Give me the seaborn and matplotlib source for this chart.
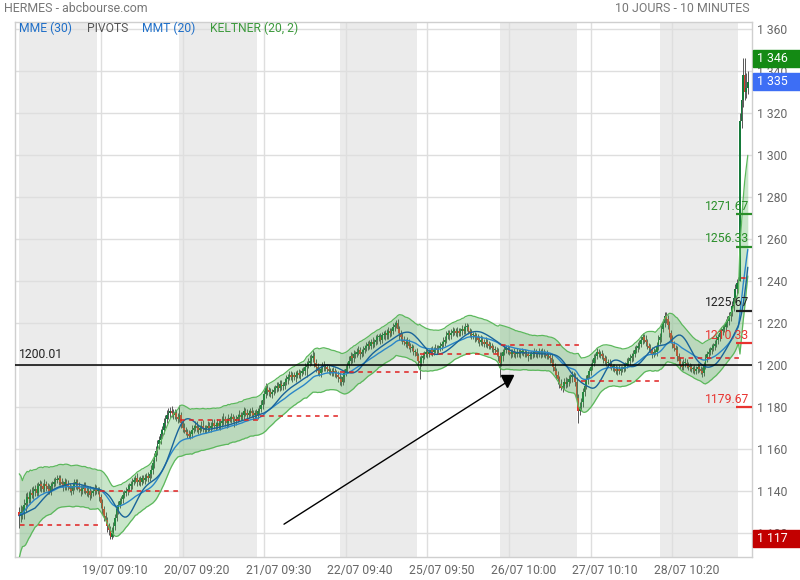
"""HERMES intraday chart (10 days, 10-minute candles) with MME/MMT, Keltner band and pivots."""
import numpy as np
import pandas as pd
import matplotlib
matplotlib.use("Agg")
import matplotlib.pyplot as plt
import matplotlib.transforms as mtransforms
from matplotlib.patches import Rectangle
import seaborn as sns

sns.set_theme(style="white")
plt.rcParams["font.family"] = ["Roboto", "DejaVu Sans"]

# ---- data --------------------------------------------------------------
days = ["18/07", "19/07", "20/07", "21/07", "22/07", "25/07", "26/07", "27/07", "28/07", "29/07"]
tick_labels = ["19/07 09:10", "20/07 09:20", "21/07 09:30", "22/07 09:40",
               "25/07 09:50", "26/07 10:00", "27/07 10:10", "28/07 10:20"]

first_open = 1130

c_1807 = [1128, 1130, 1129, 1133, 1134, 1137, 1136, 1139, 1138, 1140,
          1141, 1139, 1142, 1143, 1142, 1141, 1143, 1142, 1141, 1140,
          1142, 1143, 1144, 1145, 1145, 1146, 1144, 1143, 1142, 1144,
          1143, 1142, 1141, 1140, 1142, 1143, 1144, 1142, 1141, 1140,
          1141, 1142, 1140, 1139, 1140, 1138, 1139, 1140, 1141, 1140,
          1140]
c_1907 = [1137, 1134, 1131, 1128, 1126, 1123, 1121, 1118, 1120, 1123,
          1127, 1131, 1133, 1135, 1136, 1138, 1139, 1140, 1141, 1142,
          1143, 1144, 1145, 1146, 1144, 1145, 1144, 1146, 1145, 1146,
          1147, 1146, 1148, 1150, 1153, 1156, 1159, 1162, 1164, 1167,
          1169, 1172, 1174, 1176, 1177, 1178, 1177, 1176, 1177, 1175,
          1174]
c_2007 = [1176, 1172, 1170, 1169, 1168, 1167, 1166, 1167, 1169, 1170,
          1171, 1170, 1169, 1170, 1171, 1170, 1169, 1170, 1171, 1170,
          1171, 1172, 1171, 1171, 1172, 1171, 1172, 1173, 1174, 1173,
          1172, 1174, 1174, 1175, 1174, 1173, 1174, 1175, 1176, 1175,
          1176, 1178, 1177, 1176, 1177, 1178, 1177, 1176, 1177, 1176,
          1178]
c_2107 = [1179, 1181, 1183, 1186, 1189, 1188, 1187, 1186, 1187, 1188,
          1189, 1190, 1189, 1191, 1190, 1190, 1192, 1193, 1194, 1195,
          1194, 1195, 1194, 1195, 1196, 1195, 1196, 1197, 1197, 1199,
          1200, 1201, 1202, 1203, 1204, 1201, 1199, 1197, 1196, 1198,
          1200, 1199, 1199, 1198, 1197, 1197, 1196, 1197, 1196, 1195,
          1194]
c_2207 = [1193, 1192, 1194, 1196, 1198, 1200, 1202, 1204, 1203, 1205,
          1205, 1206, 1207, 1205, 1206, 1207, 1208, 1209, 1210, 1209,
          1211, 1210, 1211, 1212, 1213, 1213, 1212, 1214, 1214, 1215,
          1214, 1216, 1215, 1216, 1218, 1219, 1220, 1217, 1215, 1213,
          1212, 1211, 1210, 1211, 1209, 1208, 1208, 1206, 1206, 1204,
          1202]
c_2507 = [1201, 1203, 1204, 1205, 1206, 1205, 1206, 1207, 1206, 1207,
          1208, 1207, 1208, 1209, 1210, 1211, 1212, 1214, 1215, 1214,
          1215, 1216, 1216, 1215, 1216, 1215, 1216, 1217, 1216, 1218,
          1218, 1216, 1215, 1214, 1214, 1213, 1213, 1212, 1211, 1212,
          1211, 1210, 1211, 1210, 1209, 1209, 1208, 1207, 1207, 1206,
          1204]
c_2607 = [1201, 1204, 1206, 1207, 1208, 1207, 1206, 1205, 1206, 1205,
          1205, 1206, 1205, 1206, 1206, 1206, 1205, 1205, 1204, 1204,
          1205, 1205, 1206, 1205, 1205, 1206, 1205, 1206, 1205, 1205,
          1204, 1204, 1203, 1201, 1199, 1197, 1195, 1193, 1191, 1189,
          1190, 1192, 1191, 1192, 1193, 1194, 1195, 1194, 1192, 1184,
          1178]
c_2707 = [1180, 1182, 1187, 1190, 1193, 1195, 1197, 1199, 1201, 1203,
          1204, 1206, 1205, 1205, 1204, 1203, 1202, 1201, 1201, 1200,
          1199, 1199, 1198, 1197, 1198, 1197, 1198, 1198, 1199, 1200,
          1201, 1202, 1203, 1204, 1205, 1207, 1208, 1209, 1210, 1212,
          1213, 1212, 1211, 1209, 1208, 1207, 1205, 1206, 1206, 1209,
          1212]
c_2807 = [1213, 1217, 1220, 1223, 1222, 1219, 1215, 1212, 1210, 1208,
          1207, 1204, 1202, 1200, 1199, 1201, 1201, 1200, 1199, 1199,
          1198, 1198, 1197, 1198, 1199, 1198, 1197, 1196, 1200, 1203,
          1205, 1206, 1207, 1208, 1209, 1210, 1212, 1213, 1215, 1216,
          1217, 1218, 1220, 1221, 1223, 1225, 1228, 1232, 1236, 1239,
          1240]
c_2907 = [1316, 1326, 1338, 1330, 1332, 1335]

# wick lengths above / below each candle body
up_1807 = [2, 3, 2.5, 3, 5, 2.5, 3, 2, 2.5, 2, 1.5, 2.5, 2, 2, 1.5, 1.5, 2.5, 1.5, 1.5, 2,
           2, 1.5, 2, 1.5, 2.5, 1.5, 1.5, 2, 1.5, 2, 1.5, 2, 1.5, 1.5, 2, 2.5, 1.5, 1.5, 2, 1.5,
           1.5, 2, 2, 1.5, 1.5, 2, 1.5, 1.5, 2, 1.5, 1.5]
dn_1807 = [6, 3, 2.5, 2.5, 3, 2.5, 2, 2.5, 1.5, 2, 2.5, 1.5, 1.5, 2, 2.5, 1.5, 1.5, 2, 2.5, 1.5,
           2, 1.5, 1.5, 2, 1.5, 2.5, 1.5, 1.5, 2, 1.5, 2.5, 1.5, 1.5, 2, 1.5, 1.5, 2, 1.5, 1.5, 2.5,
           1.5, 2, 1.5, 1.5, 2, 2.5, 1.5, 1.5, 2, 1.5, 1.5]
up_1907 = [1.5, 1.5, 2, 1.5, 2, 1.5, 1.5, 2, 2.5, 2, 2, 1.5, 2, 1.5, 1.5, 2, 1.5, 1.5, 2, 1.5,
           1.5, 2, 1.5, 1.5, 2.5, 1.5, 2, 1.5, 1.5, 2, 1.5, 2, 1.5, 2, 2, 2, 2.5, 2, 2, 2.5,
           2, 2.5, 2, 2.5, 2.5, 2, 2.5, 2, 2, 1.5, 2]
dn_1907 = [2, 2.5, 2, 2.5, 2, 2.5, 2, 1, 1, 2, 2, 1.5, 2, 1.5, 1.5, 2, 1.5, 1.5, 2, 1.5,
           1.5, 2, 1.5, 1.5, 2, 1.5, 2, 1.5, 1.5, 2, 1.5, 2, 1.5, 2, 2, 2, 2, 2, 2, 2,
           2, 2, 2, 2, 2, 2.5, 2, 2, 2, 2, 2]
up_2007 = [5, 1.5, 1.5, 2, 1.5, 1.5, 2, 1.5, 2.5, 1.5, 2, 2, 1.5, 1.5, 2, 2.5, 1.5, 1.5, 2, 1.5,
           1.5, 2, 2, 1.5, 2, 1.5, 1.5, 2.5, 3, 1.5, 1.5, 2.5, 1.5, 2, 1.5, 1.5, 2, 1.5, 2.5, 1.5,
           1.5, 2, 1.5, 2, 1.5, 1.5, 2, 1.5, 1.5, 2, 1.5]
dn_2007 = [1.5, 2, 2, 1.5, 1.5, 2, 1, 1.5, 2, 1.5, 1.5, 2, 2, 1.5, 1.5, 2, 1.5, 1.5, 2, 1.5,
           2, 1.5, 1.5, 2, 1.5, 1.5, 2, 1.5, 1.5, 2, 2, 1.5, 1.5, 2, 1.5, 2.5, 1.5, 1.5, 2, 1.5,
           1.5, 2, 1.5, 2, 1.5, 1.5, 2, 2.5, 1.5, 1.5, 2]
up_2107 = [2, 2, 2.5, 2, 2.5, 2, 1.5, 2, 1.5, 2, 1.5, 2, 2, 1.5, 1.5, 2, 1.5, 2, 1.5, 2,
           2, 1.5, 1.5, 2, 1.5, 2, 1.5, 1.5, 2, 2, 2, 2, 2.5, 2, 3, 2, 1.5, 2, 1.5, 2,
           1.5, 2, 1.5, 1.5, 2, 1.5, 1.5, 2, 1.5, 1.5, 2]
dn_2107 = [2, 1.5, 2, 1.5, 2, 2.5, 2, 1.5, 2, 1.5, 1.5, 2, 1.5, 1.5, 2, 2, 1.5, 1.5, 2, 1.5,
           1.5, 2, 1.5, 2, 1.5, 1.5, 2, 1.5, 1.5, 2, 5, 1.5, 1.5, 2, 1.5, 2, 2.5, 2, 1.5, 2,
           1.5, 2, 2, 1.5, 1.5, 2, 1.5, 1.5, 2, 1.5, 2]
up_2207 = [2, 1.5, 2, 2, 2, 1.5, 2, 2, 1.5, 2, 1.5, 2, 2, 1.5, 1.5, 2, 1.5, 2, 1.5, 2,
           1.5, 2, 1.5, 2, 1.5, 1.5, 2, 1.5, 2, 1.5, 2, 2, 1.5, 1.5, 2, 1.5, 1.5, 2, 1.5, 1.5,
           2, 1.5, 1.5, 2, 1.5, 1.5, 2, 1.5, 1.5, 2, 1.5]
dn_2207 = [2.5, 2, 1.5, 2, 1.5, 2, 1.5, 1.5, 2, 1.5, 2, 1.5, 1.5, 2.5, 1.5, 2, 1.5, 1.5, 2, 1.5,
           1.5, 2, 1.5, 1.5, 2, 1.5, 2, 1.5, 1.5, 2, 1.5, 1.5, 2, 1.5, 1.5, 2, 1.5, 2, 3, 1.5,
           2, 1.5, 1.5, 2, 1.5, 2, 1.5, 1.5, 2, 1.5, 2.5]
up_2507 = [2, 1.5, 2, 1.5, 1.5, 2, 1.5, 1.5, 2, 1.5, 2, 1.5, 1.5, 2, 1.5, 2, 1.5, 2, 1.5, 1.5,
           2, 2, 1.5, 1.5, 2, 1.5, 1.5, 2, 1.5, 2, 2, 1.5, 1.5, 2, 1.5, 1.5, 2, 1.5, 1.5, 2,
           1.5, 1.5, 2, 1.5, 1.5, 2, 1.5, 1.5, 2, 1.5, 2]
dn_2507 = [8, 1.5, 2, 1.5, 1.5, 2, 1.5, 1.5, 2, 1.5, 1.5, 2, 1.5, 1.5, 2, 1.5, 2, 1.5, 1.5, 2,
           1.5, 1.5, 2, 1.5, 2, 1.5, 1.5, 2, 1.5, 1.5, 2, 1.5, 2, 1.5, 1.5, 2, 1.5, 1.5, 2, 1.5,
           2, 1.5, 1.5, 2, 1.5, 1.5, 2, 1.5, 1.5, 2, 2]
up_2607 = [2, 2, 1.5, 2, 1.5, 1.5, 2, 1.5, 1.5, 2, 1.5, 2, 1.5, 1.5, 2, 1.5, 1.5, 2, 1.5, 2,
           1.5, 1.5, 2, 1.5, 1.5, 2, 1.5, 2, 1.5, 1.5, 2, 1.5, 1.5, 2, 1.5, 2, 1.5, 2, 1.5, 2,
           2, 1.5, 2, 1.5, 2, 1.5, 2, 1.5, 2, 2, 2]
dn_2607 = [7, 1.5, 2, 1.5, 1.5, 2, 1.5, 2, 1.5, 1.5, 2, 1.5, 1.5, 2, 1.5, 2, 1.5, 1.5, 2, 1.5,
           1.5, 2, 1.5, 1.5, 2, 1.5, 2, 1.5, 1.5, 2, 1.5, 1.5, 2, 1.5, 2, 2, 2, 2, 2, 1,
           2, 1.5, 2, 1.5, 2, 1.5, 2, 1.5, 2, 1.5, 6]
up_2707 = [2, 2, 2, 2, 2, 2, 1.5, 2, 1.5, 2, 1.5, 2, 1.5, 1.5, 2, 1.5, 1.5, 2, 1.5, 1.5,
           2, 1.5, 1.5, 2, 1.5, 2, 1.5, 1.5, 2, 1.5, 2, 1.5, 2, 1.5, 2, 2, 1.5, 2, 2, 2,
           2, 1.5, 2, 1.5, 1.5, 2, 1.5, 2, 1.5, 2, 2]
dn_2707 = [2, 2, 2, 2, 1.5, 2, 1.5, 2, 1.5, 1.5, 2, 1.5, 1.5, 2, 1.5, 2, 1.5, 1.5, 2, 1.5,
           1.5, 2, 1.5, 1.5, 2, 1.5, 2, 1.5, 1.5, 2, 1.5, 1.5, 2, 1.5, 2, 1.5, 1.5, 2, 1.5, 1.5,
           2, 1.5, 2, 1.5, 2, 1.5, 2, 1.5, 1.5, 2, 2]
up_2807 = [2, 2, 2, 2, 2, 1.5, 2, 1.5, 2, 1.5, 1.5, 2, 1.5, 1.5, 2, 1.5, 2, 1.5, 1.5, 2,
           1.5, 1.5, 2, 1.5, 2, 1.5, 1.5, 2, 1.5, 2, 1.5, 2, 1.5, 2, 1.5, 2, 2, 1.5, 2, 2,
           2, 1.5, 2, 2, 2, 2, 2.5, 2, 2.5, 2, 2]
dn_2807 = [2, 2, 1.5, 2, 2, 2, 2, 1.5, 2, 1.5, 1.5, 2, 1.5, 2, 1.5, 1.5, 2, 1.5, 1.5, 2,
           1.5, 2, 1.5, 1.5, 2, 1.5, 1.5, 2, 1.5, 2, 1.5, 2, 1.5, 2, 1.5, 2, 1.5, 2, 1.5, 2,
           2, 1.5, 2, 2, 2, 2, 2, 2.5, 2, 2.5, 2]
up_2907 = [4, 6, 8, 8, 7, 5]
dn_2907 = [0, 3, 3, 4, 3, 3]

# red dashed reference level of each session
day_levels = [1123.6, 1139.9, 1173.6, 1175.6, 1196.6, 1205.0, 1209.3, 1192.1, 1203.4, 1241.2]
# pivots of the last session
pivot_levels = [1271.67, 1256.33, 1225.67, 1210.33, 1179.67]
pivot_colors = ["#2a8f2a", "#2a8f2a", "#222222", "#e8332f", "#e8332f"]
line_level = 1200.01
arrow_from = (168.6, 1124.0)
arrow_to = (309.4, 1191.2)
arrow_head = (310.6, 1192.1)

# ---- assemble candles ----------------------------------------------------
closes_by_day = [c_1807, c_1907, c_2007, c_2107, c_2207, c_2507, c_2607, c_2707, c_2807, c_2907]
up_by_day = [up_1807, up_1907, up_2007, up_2107, up_2207, up_2507, up_2607, up_2707, up_2807, up_2907]
dn_by_day = [dn_1807, dn_1907, dn_2007, dn_2107, dn_2207, dn_2507, dn_2607, dn_2707, dn_2807, dn_2907]

closes = np.concatenate(closes_by_day).astype(float)
opens = np.r_[first_open, closes[:-1]]
highs = np.maximum(opens, closes) + np.concatenate(up_by_day)
lows = np.minimum(opens, closes) - np.concatenate(dn_by_day)
day_len = [len(c) for c in closes_by_day]
day_start = np.cumsum([0] + day_len[:-1])
idx = np.arange(len(closes))

s = pd.Series(closes)
mme30 = s.ewm(span=30).mean()
mmt20 = s.rolling(10, min_periods=1).mean().rolling(11, min_periods=1).mean()
tr = np.maximum(highs, opens) - np.minimum(lows, opens)
atr = pd.Series(tr).ewm(span=20).mean()
kc_mid = s.ewm(span=20).mean()
kc_up = kc_mid + 2 * atr
kc_dn = kc_mid - 2 * atr

# ---- figure ----------------------------------------------------------------
fig = plt.figure(figsize=(8, 5.8), dpi=100)
ax = fig.add_axes([0.0184, 0.0391, 0.92125, 0.9238])
ax.set_xlim(-2.9, 466.5)
ax.set_ylim(1108.2, 1363.6)

for d in range(0, len(days), 2):
    ax.axvspan(day_start[d], day_start[d] + 49.5, color="#ebebeb", lw=0, zorder=0)

ax.set_axisbelow(True)
ax.grid(True, color="#dedede", lw=1)

# candles
up_mask = closes >= opens
body_lo = np.minimum(opens, closes)
body_h = np.maximum(np.abs(closes - opens), 0.5)
ax.vlines(idx, lows, highs, color="#575757", lw=0.7, zorder=2)
ax.bar(idx[up_mask], body_h[up_mask], bottom=body_lo[up_mask], width=1.0,
       color="#157a3a", lw=0, zorder=3)
ax.bar(idx[~up_mask], body_h[~up_mask], bottom=body_lo[~up_mask], width=1.0,
       color="#e03a30", lw=0, zorder=3)

# Keltner band over the candles
ax.fill_between(idx, kc_dn, kc_up, color="#4caf50", alpha=0.3, lw=0, zorder=4)
ax.plot(idx, kc_up, color="#5cb85c", lw=0.9, zorder=4)
ax.plot(idx, kc_dn, color="#5cb85c", lw=0.9, zorder=4)

sns.lineplot(x=idx, y=mme30.values, ax=ax, color="#2a86c8", lw=1.0, zorder=5)
sns.lineplot(x=idx, y=mmt20.values, ax=ax, color="#19649a", lw=1.0, zorder=5)

# session reference levels
for d, lvl in enumerate(day_levels):
    ax.hlines(lvl, day_start[d] + 0.5, day_start[d] + day_len[d] - 0.5, color="#e02020",
              lw=1.1, linestyles=(0, (3, 3)), zorder=6)

# pivots of the last session
last = idx[-1]
for lvl, col in zip(pivot_levels, pivot_colors):
    ax.hlines(lvl, day_start[-1] - 2.5, 466.5, color=col, lw=1.6, zorder=6)
    ax.annotate(f"{lvl:.2f}", xy=(last, lvl), xytext=(1, 1), textcoords="offset points",
                ha="right", va="bottom", color=col, fontsize=8.7, zorder=7)

# horizontal line + label
ax.axhline(line_level, color="black", lw=1.1, zorder=6)
ax.annotate(f"{line_level:.2f}", xy=(0, line_level), xytext=(0, 2.5), textcoords="offset points",
            ha="left", va="bottom", color="#222222", fontsize=8.7)

# hand-drawn arrow
ax.plot([arrow_from[0], arrow_to[0]], [arrow_from[1], arrow_to[1]], color="black", lw=1, zorder=7)
ax.plot(*arrow_head, marker="v", ms=9, color="black", zorder=7)

# axes styling
ax.yaxis.tick_right()
yt = np.arange(1120, 1361, 20)
ax.set_yticks(yt)
ax.set_yticklabels([f"{v:,}".replace(",", " ") for v in yt])
ax.set_xticks([52 * (k + 1) for k in range(len(tick_labels))])
ax.set_xticklabels(tick_labels)
ax.tick_params(axis="both", length=0, colors="#666666", labelsize=8.7)
ax.tick_params(axis="y", pad=4)
ax.tick_params(axis="x", pad=5)
shift = mtransforms.ScaledTranslation(14 / 100, 0, fig.dpi_scale_trans)
for lab in ax.get_xticklabels():
    lab.set_transform(lab.get_transform() + shift)
for sp in ax.spines.values():
    sp.set_color("#cfcfcf")
    sp.set_linewidth(1)
ax.set_xlabel("")
ax.set_ylabel("")

# price tags on the right axis
tags = [(highs.max(), "#148a14"), (closes[-1], "#3d6ef5"), (lows.min(), "#c20000")]
blend = mtransforms.blended_transform_factory(fig.transFigure, ax.transData)
for val, col in tags:
    ax.add_patch(Rectangle((753 / 800, val - 4.05), 47 / 800, 8.1, transform=blend,
                           color=col, clip_on=False, zorder=8))
    ax.text(757 / 800, val, f"{int(round(val)):,}".replace(",", " "), transform=blend,
            ha="left", va="center", color="white", fontsize=8.9, zorder=9, clip_on=False)

# header and indicator legend
fig.text(4 / 800, 1 - 8 / 580, "HERMES - abcbourse.com", ha="left", va="center",
         color="#777777", fontsize=8.9)
fig.text(750 / 800, 1 - 8 / 580, "10 JOURS - 10 MINUTES", ha="right", va="center",
         color="#777777", fontsize=8.9)
legend_items = [("MME (30)", "#1f6fc8", 19), ("PIVOTS", "#555555", 87),
                ("MMT (20)", "#1f6fc8", 142), ("KELTNER (20, 2)", "#3d9a3d", 210)]
for txt, col, xpx in legend_items:
    fig.text(xpx / 800, 1 - 28 / 580, txt, ha="left", va="center", color=col, fontsize=8.7)

fig.savefig("out.png", dpi=100)
